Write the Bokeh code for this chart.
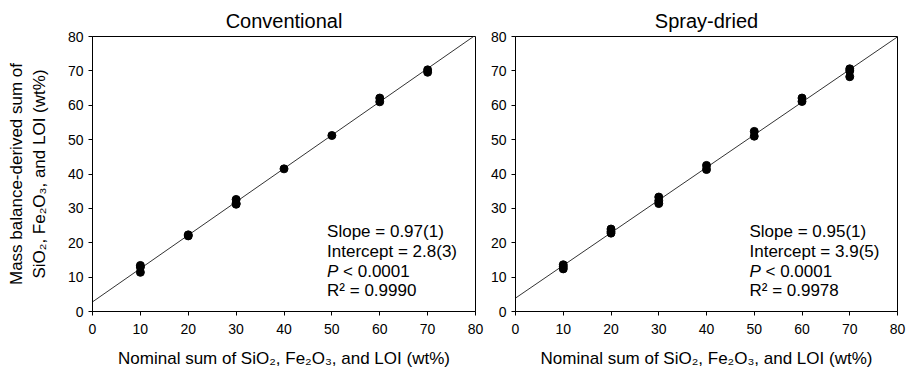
from bokeh.plotting import figure
from bokeh.layouts import row
from bokeh.models import Label, Range1d, FixedTicker
from bokeh.embed import file_html
from bokeh.resources import INLINE

titles = ["Conventional", "Spray-dried"]

conv_x = [10, 10, 10, 20, 20, 30, 30, 30, 40, 50, 60, 60, 70, 70]
conv_y = [13.4, 12.9, 11.4, 22.0, 22.3, 32.6, 31.5, 31.2, 41.5, 51.2, 62.1, 61.0, 70.3, 69.6]

spray_x = [10, 10, 10, 20, 20, 20, 30, 30, 30, 40, 40, 50, 50, 60, 60, 70, 70, 70]
spray_y = [13.6, 13.0, 12.4, 24.0, 23.3, 22.8, 33.3, 32.2, 31.4, 42.5, 41.3, 52.4, 51.0, 62.1, 61.1, 70.6, 70.0, 68.3]

slopes = [0.97, 0.95]
intercepts = [2.8, 3.9]
slope_texts = ["Slope = 0.97(1)", "Slope = 0.95(1)"]
intercept_texts = ["Intercept = 2.8(3)", "Intercept = 3.9(5)"]
p_texts = ["< 0.0001", "< 0.0001"]
r2_texts = ["R\u00b2 = 0.9990", "R\u00b2 = 0.9978"]

ticks = [0, 10, 20, 30, 40, 50, 60, 70, 80]
fit_x = [0, 80]

x_label = "Nominal sum of SiO\u2082, Fe\u2082O\u2083, and LOI (wt%)"
y_label = "Mass balance-derived sum of\nSiO\u2082, Fe\u2082O\u2083, and LOI (wt%)"

FONT = "Liberation Sans"


def make_panel(i, xs, ys, left_border, right_border, ylab):
    p = figure(frame_width=383 if i == 0 else 382, frame_height=275,
               x_range=Range1d(0, 80), y_range=Range1d(0, 80),
               output_backend="svg", toolbar_location=None,
               min_border_left=left_border, min_border_right=right_border,
               min_border_top=36, min_border_bottom=55,
               title=titles[i])
    p.title.align = "center"
    p.title.text_font = FONT
    p.title.text_font_size = "20px"
    p.title.text_font_style = "normal"
    p.title.text_color = "black"
    p.grid.visible = False
    p.outline_line_color = "black"
    p.outline_line_width = 1
    p.outline_line_alpha = 1
    for ax in (p.xaxis[0], p.yaxis[0]):
        ax.ticker = FixedTicker(ticks=ticks)
        ax.minor_tick_line_color = None
        ax.major_tick_in = 0
        ax.major_tick_out = 4
        ax.axis_line_color = "black"
        ax.major_tick_line_color = "black"
        ax.major_label_text_font = FONT
        ax.major_label_text_font_size = "14px"
        ax.major_label_text_color = "black"
        ax.axis_label_text_font = FONT
        ax.axis_label_text_font_size = "17px"
        ax.axis_label_text_font_style = "normal"
        ax.axis_label_text_color = "black"
    p.xaxis[0].axis_label = x_label
    p.xaxis[0].major_label_standoff = 8
    p.xaxis[0].axis_label_standoff = 12
    if ylab:
        p.yaxis[0].axis_label = y_label
        p.yaxis[0].axis_label_standoff = 16

    fit_y = [intercepts[i] + slopes[i] * xv for xv in fit_x]
    p.line(fit_x, fit_y, line_color="#333333", line_width=1)
    p.scatter(xs, ys, size=8, fill_color="black", line_color="black")

    tx = 49
    base = [23.37, 17.52, 11.72, 6.22]
    common = dict(text_font=FONT, text_font_size="17px", text_color="black",
                  text_baseline="alphabetic")
    p.add_layout(Label(x=tx, y=base[0], text=slope_texts[i], **common))
    p.add_layout(Label(x=tx, y=base[1], text=intercept_texts[i], **common))
    p.add_layout(Label(x=tx, y=base[2], text="P", text_font_style="italic", **common))
    p.add_layout(Label(x=tx, y=base[2], x_offset=16, text=p_texts[i], **common))
    p.add_layout(Label(x=tx, y=base[3], text=r2_texts[i], **common))
    return p


p1 = make_panel(0, conv_x, conv_y, 92, 12, True)
p2 = make_panel(1, spray_x, spray_y, 25, 10, False)

layout = row(p1, p2)
open("out.html", "w").write(file_html(layout, INLINE))
